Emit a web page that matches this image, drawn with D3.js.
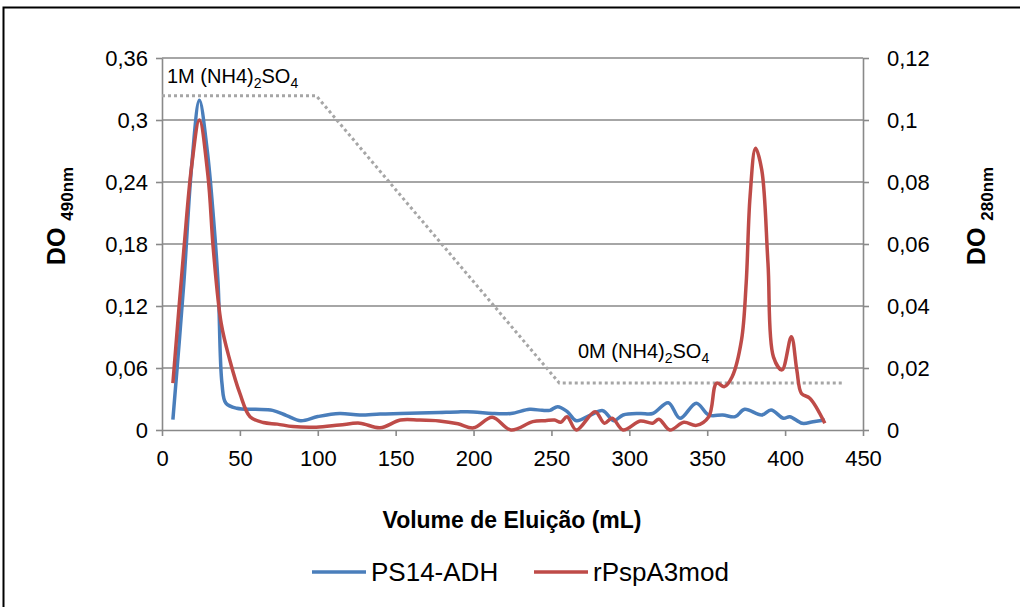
<!DOCTYPE html>
<html>
<head>
<meta charset="utf-8">
<script src="https://cdn.jsdelivr.net/npm/d3@7"></script>
<style>
  body { margin: 0; background: #fff; }
  svg { display: block; font-family: "Liberation Sans", Arial, sans-serif; }
</style>
</head>
<body>
<div id="chart"></div>
<script>
// PS14-ADH, read on the left axis (DO 490nm)
var adhVolume = [7, 14, 19, 24, 29, 33, 36, 38.5, 41, 48, 60, 71, 80, 89, 100, 114, 127, 140, 153, 165, 178, 190, 200, 212, 224, 236, 244, 249, 254, 260, 266, 275, 283, 290, 296, 307, 315, 325, 332.5, 343, 351, 360, 368, 374, 385, 391, 399, 403, 411, 418, 425.5];
var adhDO490 = [0.01, 0.142, 0.255, 0.319, 0.271, 0.206, 0.142, 0.045, 0.026, 0.021, 0.02, 0.019, 0.014, 0.009, 0.013, 0.016, 0.0145, 0.0155, 0.016, 0.0165, 0.017, 0.0175, 0.0175, 0.016, 0.016, 0.02, 0.019, 0.019, 0.0226, 0.018, 0.009, 0.0145, 0.0187, 0.009, 0.0145, 0.016, 0.016, 0.0264, 0.0113, 0.026, 0.0145, 0.0145, 0.0129, 0.02, 0.0145, 0.0194, 0.0113, 0.0129, 0.0065, 0.008, 0.0097];

// rPspA3mod, read on the right axis (DO 280nm)
var pspVolume = [7, 14, 19, 24, 29.5, 33, 38, 43.5, 50, 56.5, 65, 74, 84, 99, 114, 127, 140, 153, 165, 178, 190, 200, 212, 224, 238, 246, 252, 256, 260, 266, 278, 284, 289, 296, 307, 315, 319, 326, 335, 343, 351, 356, 361, 366, 372, 375, 377.5, 381, 385, 389, 392.5, 398, 404, 407.5, 410.5, 416, 425.5];
var pspDO280 = [0.0151, 0.058, 0.085, 0.1, 0.082, 0.058, 0.0344, 0.0226, 0.0118, 0.0043, 0.0024, 0.0019, 0.0011, 0.0009, 0.0016, 0.0022, 0.0007, 0.0032, 0.0032, 0.0029, 0.002, 0.0007, 0.0041, 0, 0.0027, 0.003, 0.0032, 0.0025, 0.0043, 0, 0.0059, 0.0022, 0.0038, 0, 0.0029, 0.0022, 0.0035, 0, 0.0025, 0.0015, 0.0043, 0.0151, 0.014, 0.0172, 0.029, 0.0473, 0.0753, 0.0909, 0.0839, 0.0538, 0.0236, 0.0194, 0.0301, 0.0194, 0.0118, 0.0102, 0.0022];

// salt gradient (dotted), on the left axis
var gradVolume = [0, 99, 255, 437];
var gradLevel = [0.3235, 0.3235, 0.0455, 0.0455];

var xTicks = [0, 50, 100, 150, 200, 250, 300, 350, 400, 450];
var leftTicks = [0, 0.06, 0.12, 0.18, 0.24, 0.3, 0.36];
var leftLabels = ["0", "0,06", "0,12", "0,18", "0,24", "0,3", "0,36"];
var rightTicks = [0, 0.02, 0.04, 0.06, 0.08, 0.1, 0.12];
var rightLabels = ["0", "0,02", "0,04", "0,06", "0,08", "0,1", "0,12"];

var W = 1020, H = 607;
var gridColor = "#898989";
var blue = "#4a7ebb", red = "#be4b48";

var svg = d3.select("#chart").append("svg")
  .attr("width", W)
  .attr("height", H);

svg.append("rect")
  .attr("x", 3.5).attr("y", 7.5)
  .attr("width", 1030).attr("height", 640)
  .attr("fill", "none")
  .attr("stroke", "#000")
  .attr("stroke-width", 2);

var x = d3.scaleLinear().domain([0, 450]).range([162, 863]);
var yL = d3.scaleLinear().domain([0, 0.36]).range([430, 58]);
var yR = d3.scaleLinear().domain([0, 0.12]).range([430, 58]);

// gridlines
svg.append("g").selectAll("line")
  .data(leftTicks.slice(1))
  .join("line")
  .attr("x1", x(0)).attr("x2", x(450))
  .attr("y1", d => yL(d)).attr("y2", d => yL(d))
  .attr("stroke", gridColor)
  .attr("stroke-width", 1.6);

function styleAxis(g) {
  g.selectAll("path, line").attr("stroke", gridColor).attr("stroke-width", 1.6);
  g.selectAll("text").attr("fill", "#000").attr("font-size", 22)
    .attr("font-family", "Liberation Sans, Arial, sans-serif");
}

svg.append("g")
  .attr("transform", "translate(0,430)")
  .call(d3.axisBottom(x).tickValues(xTicks).tickSize(6).tickPadding(14).tickSizeOuter(0))
  .call(styleAxis);

svg.append("g")
  .attr("transform", "translate(162,0)")
  .call(d3.axisLeft(yL).tickValues(leftTicks).tickSize(6).tickPadding(8).tickSizeOuter(0)
    .tickFormat((d, i) => leftLabels[i]))
  .call(styleAxis);

svg.append("g")
  .attr("transform", "translate(863,0)")
  .call(d3.axisRight(yR).tickValues(rightTicks).tickSize(6).tickPadding(18).tickSizeOuter(0)
    .tickFormat((d, i) => rightLabels[i]))
  .call(styleAxis);

// dotted gradient
svg.append("path")
  .datum(d3.range(gradVolume.length))
  .attr("d", d3.line().x(i => x(gradVolume[i])).y(i => yL(gradLevel[i])))
  .attr("fill", "none")
  .attr("stroke", "#a6a6a6")
  .attr("stroke-width", 3)
  .attr("stroke-dasharray", "3,3");

var curve = d3.curveCatmullRom.alpha(0.5);

svg.append("path")
  .datum(d3.range(adhVolume.length))
  .attr("d", d3.line().curve(curve).x(i => x(adhVolume[i])).y(i => yL(adhDO490[i])))
  .attr("fill", "none")
  .attr("stroke", blue)
  .attr("stroke-width", 3.5)
  .attr("stroke-linejoin", "round");

svg.append("path")
  .datum(d3.range(pspVolume.length))
  .attr("d", d3.line().curve(curve).x(i => x(pspVolume[i])).y(i => yR(pspDO280[i])))
  .attr("fill", "none")
  .attr("stroke", red)
  .attr("stroke-width", 3.5)
  .attr("stroke-linejoin", "round");

// salt annotations
function saltLabel(tx, ty, lead) {
  var t = svg.append("text")
    .attr("x", tx).attr("y", ty)
    .attr("font-size", 20)
    .attr("fill", "#000");
  t.append("tspan").text(lead + " (NH4)");
  t.append("tspan").attr("font-size", 14).attr("dy", 5).text("2");
  t.append("tspan").attr("dy", -5).text("SO");
  t.append("tspan").attr("font-size", 14).attr("dy", 5).text("4");
}
saltLabel(167, 83, "1M");
saltLabel(578, 358, "0M");

// axis titles
svg.append("text")
  .attr("x", 512).attr("y", 528)
  .attr("text-anchor", "middle")
  .attr("font-size", 23)
  .attr("font-weight", "bold")
  .text("Volume de Eluição (mL)");

function yTitle(cx, cy, sub) {
  var t = svg.append("text")
    .attr("transform", "translate(" + cx + "," + cy + ") rotate(-90)")
    .attr("text-anchor", "middle")
    .attr("font-weight", "bold")
    .attr("font-size", 25);
  t.append("tspan").text("DO ");
  t.append("tspan").attr("font-size", 17).attr("dy", 8).text(sub);
}
yTitle(65, 216, "490nm");
yTitle(985, 216, "280nm");

// legend
var legend = [
  { name: "PS14-ADH", color: blue, x: 312 },
  { name: "rPspA3mod", color: red, x: 534 }
];
var lg = svg.append("g").selectAll("g").data(legend).join("g")
  .attr("transform", d => "translate(" + d.x + ",572)");
lg.append("line")
  .attr("x1", 0).attr("x2", 54)
  .attr("stroke", d => d.color)
  .attr("stroke-width", 3.5);
lg.append("text")
  .attr("x", 59).attr("y", 9)
  .attr("font-size", 26)
  .text(d => d.name);
</script>
</body>
</html>
